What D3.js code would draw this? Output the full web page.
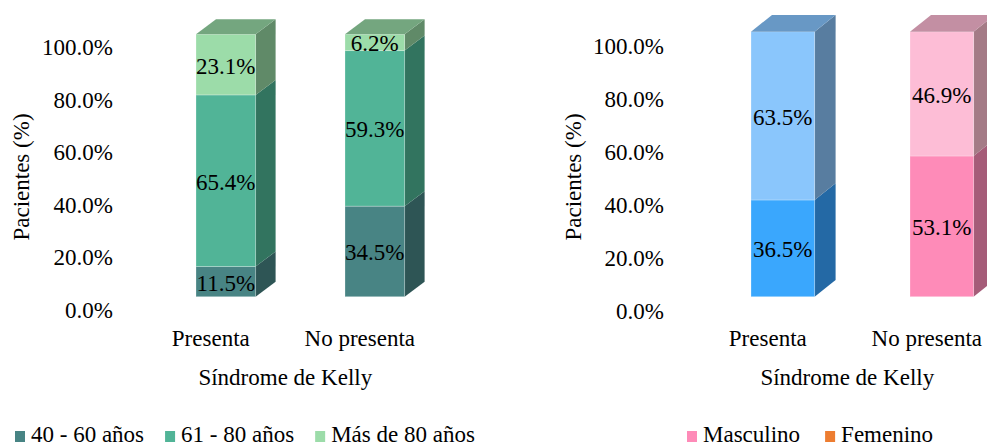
<!DOCTYPE html>
<html>
<head>
<meta charset="utf-8">
<script src="https://cdn.jsdelivr.net/npm/d3@7"></script>
<style>
body { margin: 0; background: #fff; }
</style>
</head>
<body>
<div id="container"></div>
<script>
var width = 987, height = 446;

var categories = ["Presenta", "No presenta"];
var ageGroups = ["40 - 60 años", "61 - 80 años", "Más de 80 años"];
var age4060 = [11.5, 34.5];
var age6180 = [65.4, 59.3];
var ageMas80 = [23.1, 6.2];
var sexGroups = ["Masculino", "Femenino"];
var masculino = [36.5, 53.1];
var femenino = [63.5, 46.9];
var yTicks = [0, 20, 40, 60, 80, 100];

var xTitle = "Síndrome de Kelly", yTitle = "Pacientes (%)";

// colours: front / side / top for each segment
var ageFront = ["#488484", "#51b497", "#9cdca9"];
var ageSide = ["#2e5555", "#32745f", "#608a68"];
var ageTop = "#74a67f";
var sexFront = [["#3aa7fd", "#8ac6fc"], ["#fe8bb8", "#fdbdd6"]];
var sexSide = [["#2469a5", "#587da0"], ["#a55c78", "#a47b86"]];
var sexTop = ["#6898c5", "#c38fa3"];
var sexLegend = ["#fe8bb8", "#ed7d31"];

var fmt = function(v){ return v.toFixed(1) + "%"; };

var svg = d3.select('#container').append('svg')
	.attr('width', width)
	.attr('height', height)
	.style('font-family', "'Liberation Serif', 'Times New Roman', serif")
	.style('font-size', '23px');

function drawChart(opt) {
	var rows = categories.map(function(c, i){
		var r = {cat: c};
		opt.keys.forEach(function(k, j){ r[k] = opt.values[j][i]; });
		return r;
	});
	var stack = d3.stack().keys(opt.keys)(rows);

	var x = d3.scaleBand().domain(categories).range(opt.xRange)
		.paddingInner(0.6).paddingOuter(0.3);
	var y = d3.scaleLinear().domain([0, 100]).range(opt.yRange);
	var dx = opt.dx, dy = opt.dy, bw = x.bandwidth();

	var g = svg.append('g');

	// y axis labels (sit a little below the front faces)
	var yAxis = d3.axisLeft(y).tickValues(yTicks).tickSize(0).tickPadding(0)
		.tickFormat(function(d){ return d.toFixed(1) + "%"; });
	var ag = g.append('g')
		.attr('transform', 'translate(' + opt.axisX + ',' + opt.axisDy + ')')
		.call(yAxis)
		.attr('font-family', null).attr('font-size', null);
	ag.select('.domain').remove();
	ag.selectAll('text').attr('fill', '#000').attr('dy', '0.35em');

	stack.forEach(function(s, si){
		s.forEach(function(d, ci){
			var x0 = x(categories[ci]), x1 = x0 + bw;
			var yb = y(d[0]), yt = y(d[1]);
			g.append('path')
				.attr('d', 'M' + x1 + ',' + yb + 'L' + (x1 + dx) + ',' + (yb + dy) +
					'L' + (x1 + dx) + ',' + (yt + dy) + 'L' + x1 + ',' + yt + 'Z')
				.attr('fill', opt.side(si, ci));
			g.append('rect')
				.attr('x', x0).attr('y', yt)
				.attr('width', bw).attr('height', yb - yt)
				.attr('fill', opt.front(si, ci))
				.attr('stroke', 'rgba(255,255,255,0.25)').attr('stroke-width', 1);
			if (si === stack.length - 1) {
				g.append('path')
					.attr('d', 'M' + x0 + ',' + yt + 'L' + (x0 + dx) + ',' + (yt + dy) +
						'L' + (x1 + dx) + ',' + (yt + dy) + 'L' + x1 + ',' + yt + 'Z')
					.attr('fill', opt.top(ci));
			}
		});
	});

	// data labels
	stack.forEach(function(s){
		s.forEach(function(d, ci){
			g.append('text')
				.attr('x', x(categories[ci]) + bw / 2)
				.attr('y', (y(d[0]) + y(d[1])) / 2 + 1)
				.attr('dy', '0.35em')
				.attr('text-anchor', 'middle')
				.text(fmt(d[1] - d[0]));
		});
	});

	// category labels
	categories.forEach(function(c){
		g.append('text')
			.attr('x', x(c) + bw / 2 - 15)
			.attr('y', 346)
			.attr('text-anchor', 'middle')
			.text(c);
	});
	var mid = (x(categories[0]) + x(categories[1]) + bw) / 2 - 15;
	g.append('text').attr('x', mid).attr('y', 385)
		.attr('text-anchor', 'middle').text(xTitle);

	g.append('text')
		.attr('transform', 'translate(' + opt.titleX + ',177) rotate(-90)')
		.attr('dy', '0.35em')
		.attr('text-anchor', 'middle')
		.text(yTitle);

	// legend
	var lx = opt.legendX;
	opt.legend.forEach(function(name, i){
		g.append('rect').attr('x', lx).attr('y', 431)
			.attr('width', 10).attr('height', 11)
			.attr('fill', opt.legendColors[i]);
		var t = g.append('text').attr('x', lx + 16).attr('y', 442).text(name);
		lx += 16 + t.node().getComputedTextLength() + opt.legendGap;
	});
}

drawChart({
	keys: ageGroups,
	values: [age4060, age6180, ageMas80],
	xRange: [151.3, 449.3],
	yRange: [296.7, 34.3],
	axisX: 113, axisDy: 12.5,
	dx: 20, dy: -15,
	front: function(si){ return ageFront[si]; },
	side: function(si){ return ageSide[si]; },
	top: function(){ return ageTop; },
	titleX: 21,
	legend: ageGroups, legendColors: ageFront,
	legendX: 15, legendGap: 21
});

drawChart({
	keys: sexGroups,
	values: [masculino, femenino],
	xRange: [703.3, 1021.3],
	yRange: [296.7, 31.7],
	axisX: 664, axisDy: 13.5,
	dx: 21, dy: -16.7,
	front: function(si, ci){ return sexFront[ci][si]; },
	side: function(si, ci){ return sexSide[ci][si]; },
	top: function(ci){ return sexTop[ci]; },
	titleX: 573,
	legend: sexGroups, legendColors: sexLegend,
	legendX: 687, legendGap: 25
});
</script>
</body>
</html>
